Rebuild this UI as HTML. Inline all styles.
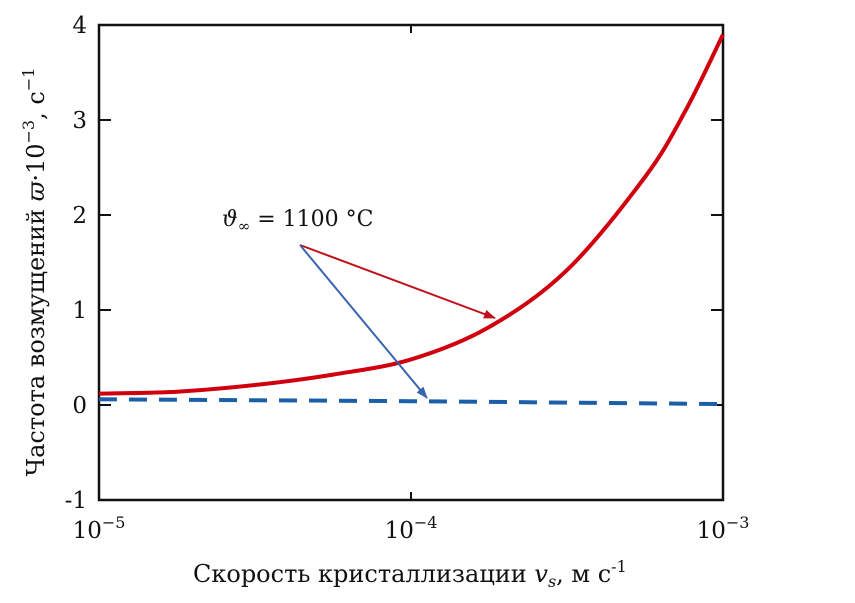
<!DOCTYPE html>
<html><head><meta charset="utf-8"><style>
body{margin:0;background:#fff;width:855px;height:598px;overflow:hidden}
text{font-family:"DejaVu Serif","Liberation Serif",serif;fill:#111}
</style></head><body>
<svg id="chart" width="855" height="598" viewBox="0 0 855 598">
<defs>
<marker id="ar" markerWidth="12" markerHeight="9" refX="11" refY="4.5" orient="auto" markerUnits="userSpaceOnUse"><path d="M0,0 L12,4.5 L0,9 Z" fill="#c0101a"/></marker>
<marker id="ab" markerWidth="12" markerHeight="9" refX="11" refY="4.5" orient="auto" markerUnits="userSpaceOnUse"><path d="M0,0 L12,4.5 L0,9 Z" fill="#3a63b0"/></marker>
</defs>
<g id="plot"></g>
<text x="222" y="226" font-size="22"><tspan font-style="italic">ϑ</tspan><tspan font-size="15" dy="5">∞</tspan><tspan dy="-5">  = 1100 °C</tspan></text>
<line x1="300" y1="245" x2="495" y2="318" stroke="#c0101a" stroke-width="2" marker-end="url(#ar)"/>
<line x1="300" y1="245" x2="427" y2="398" stroke="#3a63b0" stroke-width="2" marker-end="url(#ab)"/>
<text x="193" y="582" font-size="24">Скорость кристаллизации  <tspan font-style="italic">v<tspan font-size="16" dy="5">s</tspan></tspan><tspan dy="-5">, м с</tspan><tspan font-size="16" dy="-10">-1</tspan></text>
<text transform="translate(44,272) rotate(-90)" font-size="24" text-anchor="middle">Частота возмущений <tspan font-style="italic">ϖ</tspan>·10<tspan font-size="16" dy="-10">−3</tspan><tspan dy="10">, с</tspan><tspan font-size="16" dy="-10">−1</tspan></text>
</svg>
<script>
const xExps=[-5,-4,-3];
const yTicks=[-1,0,1,2,3,4];
const redLogX=[-5,-4.75,-4.5,-4.25,-4,-3.75,-3.5,-3.25,-3.12,-3];
const redY=[0.12,0.14,0.21,0.32,0.48,0.82,1.42,2.4,3.1,3.9];
const blueLogX=[-5,-4.5,-4,-3.5,-3];
const blueY=[0.06,0.05,0.04,0.025,0.01];
const L=99,R=723,T=25,B=500,ymin=-1,ymax=4;
const sx=v=>L+(v+5)/2*(R-L);
const sy=v=>B-(v-ymin)/(ymax-ymin)*(B-T);
const g=document.getElementById('plot');
const NS='http://www.w3.org/2000/svg';
function mk(t,a){const e=document.createElementNS(NS,t);for(const k in a)e.setAttribute(k,a[k]);g.appendChild(e);return e;}
const fr=mk('rect',{x:L,y:T,width:R-L,height:B-T,fill:'none',stroke:'#111','stroke-width':2.5});


yTicks.forEach(v=>{
 const y=sy(v);
 const t1=mk('line',{x1:L,x2:L+12,y1:y,y2:y,stroke:'#111','stroke-width':2});
 
 
 const t2=mk('line',{x1:R-12,x2:R,y1:y,y2:y,stroke:'#111','stroke-width':2});
 
 
 const tx=mk('text',{x:L-12,y:y+8,'font-size':23,'text-anchor':'end'});
 tx.textContent=v<0?'-'+Math.abs(v):String(v);
 
 
});
xExps.forEach(e=>{
 const x=sx(e);
 const a=mk('line',{x1:x,x2:x,y1:B-8,y2:B,stroke:'#111','stroke-width':2});
 
 
 const b=mk('line',{x1:x,x2:x,y1:T,y2:T+8,stroke:'#111','stroke-width':2});
 
 
 const tx=mk('text',{x:x,y:538,'font-size':23,'text-anchor':'middle'});
 tx.innerHTML='10<tspan font-size="16" dy="-10">−'+Math.abs(e)+'</tspan>';
 
 
});
function path(xs,ys){
 const p=xs.map((v,i)=>[sx(v),sy(ys[i])]);
 let d='M'+p[0][0]+','+p[0][1];
 for(let i=0;i<p.length-1;i++){
  const p0=p[Math.max(0,i-1)],p1=p[i],p2=p[i+1],p3=p[Math.min(p.length-1,i+2)];
  d+=' C'+(p1[0]+(p2[0]-p0[0])/6)+','+(p1[1]+(p2[1]-p0[1])/6)+' '+(p2[0]-(p3[0]-p1[0])/6)+','+(p2[1]-(p3[1]-p1[1])/6)+' '+p2[0]+','+p2[1];
 }
 return d;
}
const bl=mk('path',{d:path(blueLogX,blueY),fill:'none',stroke:'#1a5fa8','stroke-width':4,'stroke-dasharray':'18,12'});


const rl=mk('path',{d:path(redLogX,redY),fill:'none',stroke:'#d0000f','stroke-width':4});


</script>
</body></html>
